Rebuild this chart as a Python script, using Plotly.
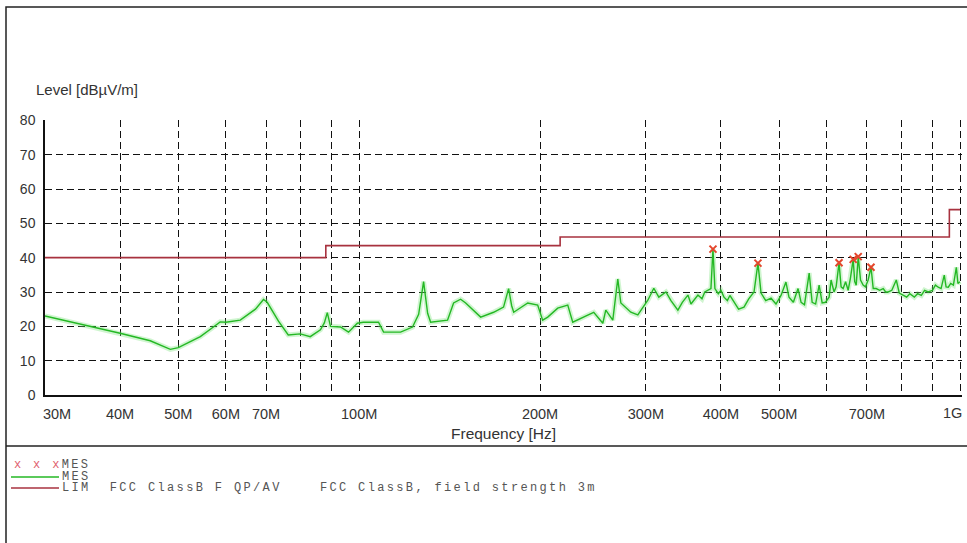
import plotly.graph_objects as go

# Measured emission scan (frequency in MHz, level in dBuV/m)
scan_freq_mhz = [
    30.0, 31.8, 34.7, 40.0, 44.9, 48.5, 50.0, 54.4, 57.2, 58.7,
    60.0, 63.4, 67.2, 69.3, 70.3, 73.4, 76.2, 79.8, 82.9, 86.2,
    87.5, 88.5, 89.6, 93.1, 96.0, 99.3, 101.6, 107.7, 109.8, 117.2,
    122.7, 125.6, 128.0, 130.0, 131.5, 140.3, 143.6, 147.5, 150.4, 159.3,
    167.4, 173.9, 177.3, 179.4, 180.8, 190.8, 198.2, 202.0, 206.0, 214.0,
    222.4, 226.7, 240.1, 245.7, 254.4, 257.3, 264.3, 269.4, 272.6, 283.2,
    290.9, 302.3, 309.3, 315.3, 324.0, 330.3, 339.2, 345.0, 352.5, 356.6,
    366.3, 372.0, 376.0, 380.7, 385.0, 388.0, 390.9, 396.0, 400.0, 404.7,
    410.0, 414.0, 420.6, 428.0, 437.0, 445.0, 454.1, 461.0, 466.5, 475.0,
    484.7, 494.0, 503.6, 513.2, 519.2, 528.0, 537.6, 543.9, 551.0, 561.0,
    567.4, 575.0, 582.8, 589.6, 597.0, 605.5, 610.1, 617.1, 622.0, 629.0,
    634.0, 639.0, 645.0, 651.3, 657.0, 664.0, 668.0, 671.8, 677.0, 683.0,
    689.8, 696.0, 703.2, 711.0, 717.0, 725.2, 735.0, 745.0, 752.0, 759.3,
    770.0, 783.3, 792.3, 805.0, 815.0, 825.0, 839.3, 850.0, 862.0, 873.0,
    885.3, 900.0, 910.0, 920.0, 930.0, 941.4, 948.0, 956.1, 965.0, 975.0,
    986.0, 992.0, 1000.0,
]
scan_level = [
    23.0, 22.0, 20.4, 18.0, 15.8, 13.3, 13.8, 17.0, 19.8, 21.3,
    21.2, 21.8, 25.0, 27.8, 27.0, 21.5, 17.5, 17.8, 17.0, 19.0,
    21.0, 24.0, 20.0, 19.8, 18.3, 20.9, 21.2, 21.2, 18.3, 18.3,
    19.8, 23.5, 33.0, 23.8, 21.2, 21.8, 26.8, 27.9, 26.8, 22.7,
    24.1, 25.6, 31.0, 26.0, 24.1, 26.8, 26.2, 21.8, 22.7, 25.3,
    26.2, 21.2, 23.3, 24.1, 20.9, 24.7, 21.8, 33.8, 26.8, 24.1,
    23.3, 27.6, 31.1, 28.5, 30.0, 27.5, 24.7, 27.0, 29.1, 26.5,
    29.1, 28.0, 30.0, 30.5, 31.0, 42.5, 31.0, 29.5, 30.5, 28.5,
    27.5, 29.0, 27.0, 25.0, 25.6, 28.0, 30.0, 38.4, 29.7, 27.5,
    28.2, 26.5, 29.0, 32.9, 28.5, 27.0, 31.0, 27.0, 26.3, 35.5,
    27.0, 26.5, 32.0, 26.8, 27.0, 28.5, 33.5, 30.0, 31.5, 38.5,
    31.5, 31.0, 33.0, 30.5, 34.0, 39.5, 33.0, 32.0, 40.3, 33.5,
    32.0, 31.5, 33.5, 37.2, 31.0, 31.0, 30.5, 31.0, 30.0, 30.0,
    30.5, 33.5, 29.7, 29.0, 28.5, 29.5, 28.5, 29.5, 29.0, 30.5,
    30.0, 30.5, 32.0, 31.4, 31.0, 34.9, 31.5, 31.4, 32.5, 32.0,
    37.2, 32.5, 33.0,
]

# Peak markers
peak_freq_mhz = [388.0, 461.0, 629.0, 664.0, 677.0, 711.0]
peak_level = [42.5, 38.4, 38.5, 39.5, 40.3, 37.2]

# FCC Class B limit, 3 m
limit_freq_mhz = [30, 88, 88, 216, 216, 960, 960, 1000]
limit_level = [40, 40, 43.5, 43.5, 46, 46, 54, 54]

# Axis ticks (the last label, 1G, is set inside the plot edge separately)
NB = "\u00a0"
x_tick_vals = [30, 40, 50, 60, 70, 80, 90, 100, 200, 300, 400, 500, 600, 700, 800, 900, 1000]
x_tick_text = [NB * 6 + "30M", "40M", "50M", "60M", "70M", "", "", "100M", "200M", "300M",
               "400M", "500M", "", "700M", "", "", ""]
y_tick_vals = [0, 10, 20, 30, 40, 50, 60, 70, 80]

W, H = 967, 543


def px(x):
    return x / W


def py(y):
    return 1 - y / H


fig = go.Figure()

fig.add_trace(go.Scatter(
    x=limit_freq_mhz, y=limit_level, mode="lines",
    line=dict(color="#a8323f", width=1.6), hoverinfo="skip",
))
# soft halo under the scan trace
fig.add_trace(go.Scatter(
    x=scan_freq_mhz, y=scan_level, mode="lines",
    line=dict(color="rgba(120,225,120,0.35)", width=5), hoverinfo="skip",
))
fig.add_trace(go.Scatter(
    x=scan_freq_mhz, y=scan_level, mode="lines",
    line=dict(color="#24b824", width=1.4),
))
fig.add_trace(go.Scatter(
    x=peak_freq_mhz, y=peak_level, mode="markers",
    marker=dict(symbol="x-thin", size=7, line=dict(color="#e4462c", width=2)),
))

mono = "Liberation Mono, Courier New, monospace"
sans = "Liberation Sans, Arial, sans-serif"
legend_font = dict(family=mono, size=12, color="#555")
SPACED = "letter-spacing:2.35px;"

shapes = [
    # outer frame
    dict(type="rect", xref="paper", yref="paper", x0=px(6), y0=py(7), x1=px(975), y1=py(560),
         line=dict(color="#222", width=1.5), layer="below"),
    # separator above legend box
    dict(type="line", xref="paper", yref="paper", x0=px(6), y0=py(446), x1=px(975), y1=py(446),
         line=dict(color="#222", width=1.5)),
    # legend swatches
    dict(type="line", xref="paper", yref="paper", x0=px(11), y0=py(477), x1=px(59), y1=py(477),
         line=dict(color="#24b824", width=1.5)),
    dict(type="line", xref="paper", yref="paper", x0=px(11), y0=py(488), x1=px(59), y1=py(488),
         line=dict(color="#a8323f", width=1.5)),
]

lim_text = NB.join(["LIM", "", "FCC", "ClassB", "F", "QP/AV", "", "", "",
                    "FCC", "ClassB,", "field", "strength", "3m"])

annotations = [
    dict(text="Level [dBµV/m]", xref="paper", yref="paper", x=px(34), y=py(89),
         xanchor="left", yanchor="middle", showarrow=False,
         font=dict(family=sans, size=15, color="#333")),
    dict(text="Frequency [Hz]", xref="paper", yref="paper", x=px(503), y=py(433),
         xanchor="center", yanchor="middle", showarrow=False,
         font=dict(family=sans, size=15.5, color="#333")),
    dict(text="1G", xref="paper", yref="paper", x=px(952), y=py(413),
         xanchor="center", yanchor="middle", showarrow=False,
         font=dict(family=sans, size=14.5, color="#333")),
    dict(text=f"<span style='{SPACED}color:#e0606e'>x{NB}x{NB}x</span>"
              f"<span style='{SPACED}'>MES</span>",
         xref="paper", yref="paper",
         x=px(12), y=py(465), xanchor="left", yanchor="middle", showarrow=False,
         font=legend_font),
    dict(text=f"<span style='{SPACED}'>MES</span>", xref="paper", yref="paper",
         x=px(60), y=py(477), xanchor="left", yanchor="middle", showarrow=False,
         font=legend_font),
    dict(text=f"<span style='{SPACED}'>{lim_text}</span>",
         xref="paper", yref="paper",
         x=px(60), y=py(488), xanchor="left", yanchor="middle", showarrow=False,
         font=legend_font),
]

# a couple of pixels of headroom past 1 GHz keeps the 1G grid line inside the plot
x_range = [1.47712, 3.0033]

fig.update_layout(
    template="none",
    width=W, height=H, autosize=False,
    margin=dict(l=0, r=0, t=0, b=0, pad=0),
    paper_bgcolor="white", plot_bgcolor="white",
    showlegend=False,
    shapes=shapes, annotations=annotations,
    xaxis=dict(
        type="log", domain=[px(45), px(962)], range=x_range,
        tickvals=x_tick_vals, ticktext=x_tick_text, automargin=False,
        showgrid=True, gridcolor="#111", gridwidth=1.4, griddash="7px,4px",
        showline=True, linecolor="#111", linewidth=1.5,
        ticks="", ticklabelstandoff=5, zeroline=False,
        tickfont=dict(family=sans, size=14.5, color="#333"),
    ),
    yaxis=dict(
        domain=[py(395), py(120)], range=[0, 80.1],
        tickvals=y_tick_vals, automargin=False,
        showgrid=True, gridcolor="#111", gridwidth=1.4, griddash="7px,4px",
        showline=True, linecolor="#111", linewidth=1.5,
        ticks="", ticklabelstandoff=5, zeroline=False,
        tickfont=dict(family=sans, size=14, color="#333"),
    ),
)

fig.write_html(
    "out.html",
    post_script="document.body.style.margin='0px';document.body.style.overflow='hidden';",
)
